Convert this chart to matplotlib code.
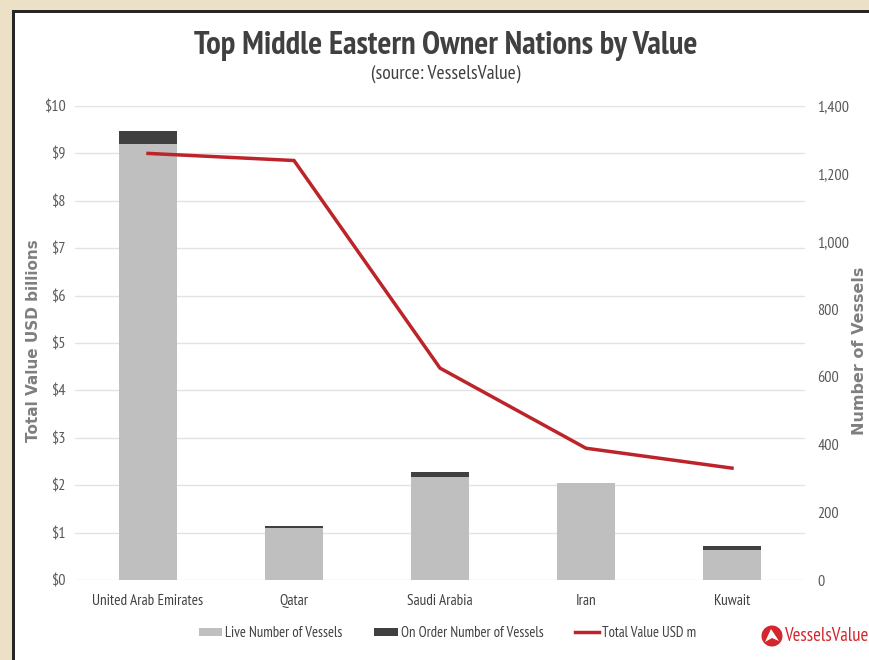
import matplotlib.pyplot as plt
from matplotlib.patches import Rectangle, Ellipse, Polygon
from matplotlib.lines import Line2D

# vessel counts and fleet value per owner nation
nations = ['United Arab Emirates', 'Qatar', 'Saudi Arabia', 'Iran', 'Kuwait']
live_vessels = [1287, 154, 305, 286, 89]
on_order_vessels = [40, 6, 13, 1, 11]
total_value_usd_m = [9000, 8850, 4470, 2780, 2360]

left_ticks = list(range(0, 11))
right_ticks = list(range(0, 1401, 200))

narrow = ['PT Sans Narrow', 'DejaVu Sans']
tick_grey = '#595959'
W, H = 870, 660

fig = plt.figure(figsize=(8.7, 6.6), dpi=100)
fig.patch.set_facecolor('#ECE0C6')

# white panel with a dark edge on the top and left
fig.add_artist(Rectangle((12 / W, 0), 1, 1 - 10 / H, transform=fig.transFigure,
                         facecolor='#262626', edgecolor='none', zorder=0))
fig.add_artist(Rectangle((15 / W, 0), 1, 1 - 13 / H, transform=fig.transFigure,
                         facecolor='white', edgecolor='none', zorder=0))

ax = fig.add_axes([75 / W, 80 / H, 730 / W, 474 / H])
ax2 = ax.twinx()
x = list(range(len(nations)))

# value axis (left) holds the grid
ax.set_ylim(0, 10)
ax.set_yticks(left_ticks)
ax.set_yticklabels(['${}'.format(v) for v in left_ticks], family=narrow,
                   fontsize=11.5, color=tick_grey)
ax.grid(axis='y', color='#E3E3E3', linewidth=1)
ax.set_axisbelow(True)
ax.set_xlim(-0.5, len(nations) - 0.5)
ax.set_xticks(x)
ax.set_xticklabels(nations, family=narrow, fontsize=11, color='#404040')
ax.tick_params(axis='x', length=0, pad=10)
ax.tick_params(axis='y', length=0, pad=7)
ax.set_ylabel('Total Value USD billions', fontsize=11, fontweight='bold',
              color='#7F7F7F')
ax.yaxis.set_label_coords(-0.047, 0.505)
ax.patch.set_visible(False)

# vessel axis (right) holds the stacked bars and the value line on top
ax2.set_ylim(0, 1400)
ax2.set_yticks(right_ticks)
ax2.set_yticklabels(['{:,}'.format(v) for v in right_ticks], family=narrow,
                    fontsize=11.5, color=tick_grey)
ax2.tick_params(length=0, pad=9)
ax2.set_ylabel('Number of Vessels', fontsize=11.5, fontweight='bold',
               color='#7F7F7F', rotation=90)
ax2.yaxis.set_label_coords(1.064, 0.483)
ax.set_zorder(0)
ax2.set_zorder(1)
ax2.patch.set_visible(False)

ax2.bar(x, live_vessels, width=0.4, color='#BFBFBF', zorder=2)
ax2.bar(x, on_order_vessels, width=0.4, bottom=live_vessels, color='#404040', zorder=2)
ax2.plot(x, [v / 1000 for v in total_value_usd_m], color='#BD2429', linewidth=2.5,
         transform=ax.transData, zorder=3, solid_joinstyle='miter')

for a in (ax, ax2):
    for s in a.spines.values():
        s.set_visible(False)

fig.text(0.512, 0.931, 'Top Middle Eastern Owner Nations by Value', ha='center',
         va='center', family=narrow, fontsize=23.5, fontweight='bold', color='#404040')
fig.text(0.512, 0.888, '(source: VesselsValue)', ha='center', va='center',
         family=narrow, fontsize=14, color='#404040')

handles = [Rectangle((0, 0), 1, 1, facecolor='#BFBFBF'),
           Rectangle((0, 0), 1, 1, facecolor='#404040'),
           Line2D([], [], color='#BD2429', linewidth=2.5)]
labels = ['Live Number of Vessels', 'On Order Number of Vessels', 'Total Value USD m']
fig.legend(handles, labels, loc='center', bbox_to_anchor=(0.514, 0.041), ncol=3,
           frameon=False, prop={'family': narrow, 'size': 10.5}, labelcolor='#404040',
           handlelength=1.6, handleheight=0.5, handletextpad=0.2, columnspacing=2.2)

# VesselsValue logo
logo_red = '#D3262D'
fig.add_artist(Ellipse((772 / W, 24 / H), 21 / W, 21 / H, transform=fig.transFigure,
                       facecolor=logo_red, edgecolor='none'))
fig.add_artist(Polygon([(765 / W, 18 / H), (771 / W, 31 / H), (779 / W, 19 / H),
                        (772 / W, 22 / H)],
                       closed=True, transform=fig.transFigure, facecolor='white',
                       edgecolor='none'))
fig.text(784 / W, 24 / H, 'VesselsValue', ha='left', va='center', family=narrow,
         fontsize=13.5, color=logo_red)

fig.savefig('out.png', dpi=100, facecolor=fig.get_facecolor())
